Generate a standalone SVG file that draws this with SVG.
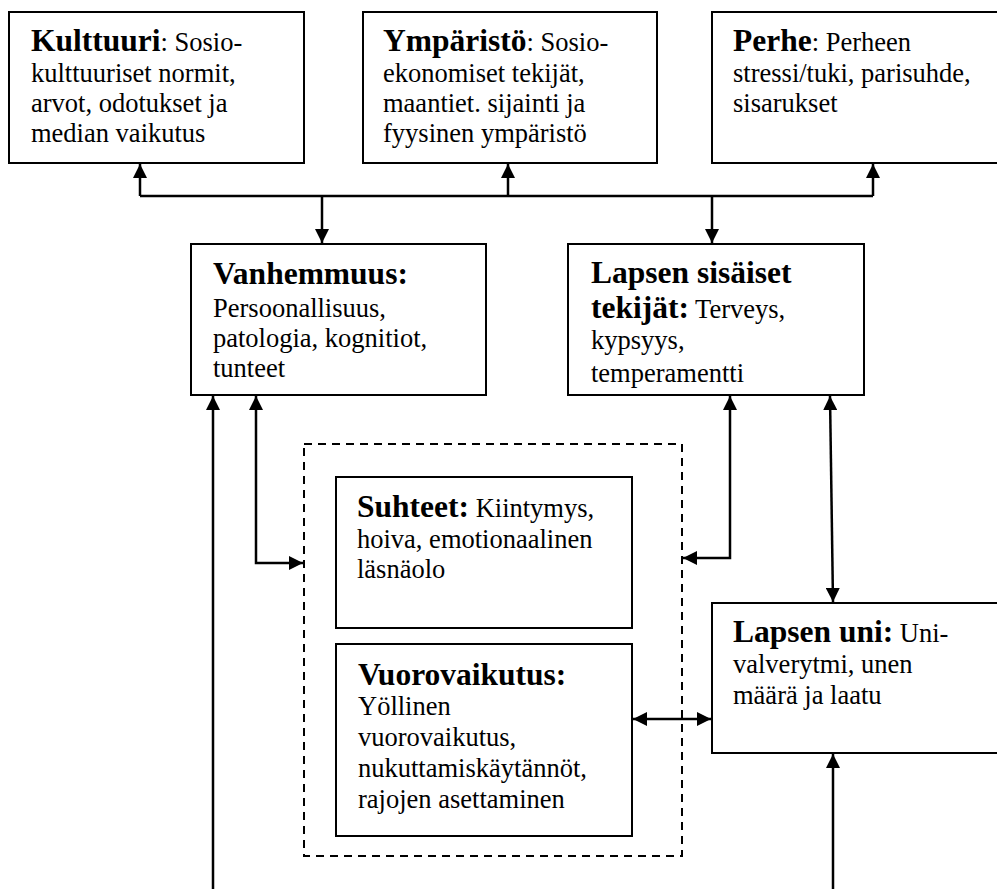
<svg xmlns="http://www.w3.org/2000/svg" width="997" height="889" viewBox="0 0 997 889">
<defs>
<style>
.box{fill:#fff;stroke:#000;stroke-width:2}
.dash{fill:none;stroke:#000;stroke-width:2;stroke-dasharray:8,6}
.c{fill:none;stroke:#000;stroke-width:2.5}
text{font-family:"Liberation Serif","Times New Roman",serif;font-size:26.5px;fill:#000}
.h{font-weight:bold;font-size:31.5px}
</style>
<marker id="a" viewBox="0 0 14 14" markerWidth="14" markerHeight="14" refX="14" refY="7" orient="auto-start-reverse" markerUnits="userSpaceOnUse">
<path d="M0,0 L14,7 L0,14 Z" fill="#000"/>
</marker>
</defs>
<rect width="997" height="889" fill="#fff"/>

<g id="connectors">
<path class="c" d="M140,196 H873"/>
<path class="c" d="M140,196 V164" marker-end="url(#a)"/>
<path class="c" d="M508,196 V164" marker-end="url(#a)"/>
<path class="c" d="M873,196 V164" marker-end="url(#a)"/>
<path class="c" d="M322,196 V243" marker-end="url(#a)"/>
<path class="c" d="M712,196 V243" marker-end="url(#a)"/>
<path class="c" d="M213,889 V396" marker-end="url(#a)"/>
<path class="c" d="M256,396 V563 H303" marker-start="url(#a)" marker-end="url(#a)"/>
<path class="c" d="M730,396 V558 H683" marker-start="url(#a)" marker-end="url(#a)"/>
<path class="c" d="M830,396 L833,602" marker-start="url(#a)" marker-end="url(#a)"/>
<path class="c" d="M833,889 V754" marker-end="url(#a)"/>
<path class="c" d="M633,719 H711" marker-start="url(#a)" marker-end="url(#a)"/>
</g>

<g id="kulttuuri">
<rect class="box" x="9" y="12" width="295" height="151"/>
<text x="31" y="51"><tspan class="h">Kulttuuri</tspan>: Sosio-</text>
<text x="31" y="82">kulttuuriset normit,</text>
<text x="31" y="112">arvot, odotukset ja</text>
<text x="31" y="142">median vaikutus</text>
</g>

<g id="ymparisto">
<rect class="box" x="363" y="12" width="294" height="151"/>
<text x="383" y="51"><tspan class="h">Ympäristö</tspan>: Sosio-</text>
<text x="383" y="82">ekonomiset tekijät,</text>
<text x="383" y="112">maantiet. sijainti ja</text>
<text x="383" y="142">fyysinen ympäristö</text>
</g>

<g id="perhe">
<rect class="box" x="712" y="12" width="300" height="151"/>
<text x="733" y="51"><tspan class="h">Perhe</tspan>: Perheen</text>
<text x="733" y="82">stressi/tuki, parisuhde,</text>
<text x="733" y="112">sisarukset</text>
</g>

<g id="vanhemmuus">
<rect class="box" x="191" y="244" width="295" height="151"/>
<text x="213" y="284" class="h">Vanhemmuus:</text>
<text x="213" y="317">Persoonallisuus,</text>
<text x="213" y="347">patologia, kognitiot,</text>
<text x="213" y="377">tunteet</text>
</g>

<g id="lapsen-sisaiset">
<rect class="box" x="568" y="244" width="296" height="151"/>
<text x="591" y="283" class="h">Lapsen sisäiset</text>
<text x="591" y="318"><tspan class="h">tekijät:</tspan> Terveys,</text>
<text x="591" y="349">kypsyys,</text>
<text x="591" y="382">temperamentti</text>
</g>

<g id="ryhma">
<rect class="dash" x="304" y="444" width="378" height="412"/>
</g>

<g id="suhteet">
<rect class="box" x="336" y="477" width="296" height="151"/>
<text x="357" y="517"><tspan class="h">Suhteet:</tspan> Kiintymys,</text>
<text x="357" y="548">hoiva, emotionaalinen</text>
<text x="357" y="578">läsnäolo</text>
</g>

<g id="vuorovaikutus">
<rect class="box" x="336" y="644" width="296" height="192"/>
<text x="358" y="685" class="h">Vuorovaikutus:</text>
<text x="358" y="715">Yöllinen</text>
<text x="358" y="746">vuorovaikutus,</text>
<text x="358" y="777">nukuttamiskäytännöt,</text>
<text x="358" y="808">rajojen asettaminen</text>
</g>

<g id="lapsen-uni">
<rect class="box" x="712" y="603" width="300" height="150"/>
<text x="733" y="642"><tspan class="h">Lapsen uni:</tspan> Uni-</text>
<text x="733" y="673">valverytmi, unen</text>
<text x="733" y="704">määrä ja laatu</text>
</g>
</svg>
